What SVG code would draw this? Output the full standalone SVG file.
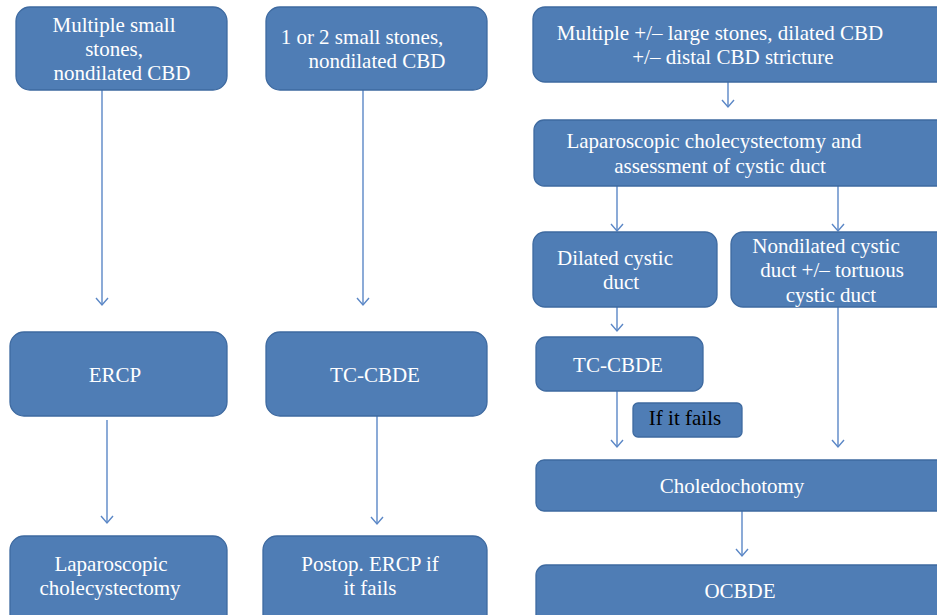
<svg xmlns="http://www.w3.org/2000/svg" width="937" height="615" viewBox="0 0 937 615">
<defs>
<style>
.box{fill:#4F7DB5;stroke:#3E6AA0;stroke-width:1.3}
.t{font-size:21px;fill:#FFFFFF;text-anchor:middle}
.k{fill:#000000}
.c{stroke:#5B87C6;stroke-width:1.4;fill:none}
</style>
<marker id="ah" markerUnits="userSpaceOnUse" markerWidth="16" markerHeight="16" viewBox="-8 -8 16 16" refX="0" refY="0" orient="auto">
<path d="M-7,-6 L0,0 L-7,6" fill="none" stroke="#5B87C6" stroke-width="1.4"/>
</marker>
</defs>
<rect width="937" height="615" fill="#FFFFFF"/>
<g id="connectors">
<line class="c" x1="102" y1="90" x2="102" y2="305" marker-end="url(#ah)"/>
<line class="c" x1="363" y1="90" x2="363" y2="305" marker-end="url(#ah)"/>
<line class="c" x1="107" y1="420" x2="107" y2="523" marker-end="url(#ah)"/>
<line class="c" x1="377" y1="416" x2="377" y2="524" marker-end="url(#ah)"/>
<line class="c" x1="728" y1="82" x2="728" y2="107" marker-end="url(#ah)"/>
<line class="c" x1="617" y1="186" x2="617" y2="231" marker-end="url(#ah)"/>
<line class="c" x1="838" y1="186" x2="838" y2="231" marker-end="url(#ah)"/>
<line class="c" x1="617" y1="307" x2="617" y2="331" marker-end="url(#ah)"/>
<line class="c" x1="617" y1="391" x2="617" y2="447" marker-end="url(#ah)"/>
<line class="c" x1="838" y1="307" x2="838" y2="447" marker-end="url(#ah)"/>
<line class="c" x1="742" y1="511" x2="742" y2="556" marker-end="url(#ah)"/>
</g>
<g font-family="Liberation Serif, DejaVu Serif, serif">
<g id="n1">
<rect class="box" x="16" y="7" width="211" height="83" rx="14"/>
<text class="t" x="114" y="32">Multiple small</text>
<text class="t" x="114" y="56">stones,</text>
<text class="t" x="122" y="80">nondilated CBD</text>
</g>
<g id="n2">
<rect class="box" x="266" y="7" width="221" height="83" rx="14"/>
<text class="t" x="362" y="44">1 or 2 small stones,</text>
<text class="t" x="377" y="68">nondilated CBD</text>
</g>
<g id="n3">
<rect class="box" x="10" y="332" width="217" height="84" rx="14"/>
<text class="t" x="115" y="382">ERCP</text>
</g>
<g id="n4">
<rect class="box" x="266" y="332" width="221" height="84" rx="14"/>
<text class="t" x="375" y="382">TC-CBDE</text>
</g>
<g id="n5">
<rect class="box" x="10" y="536" width="217" height="100" rx="14"/>
<text class="t" x="111" y="571">Laparoscopic</text>
<text class="t" x="110" y="595">cholecystectomy</text>
</g>
<g id="n6">
<rect class="box" x="263" y="536" width="224" height="100" rx="14"/>
<text class="t" x="370" y="571">Postop. ERCP if</text>
<text class="t" x="370" y="595">it fails</text>
</g>
<g id="n7">
<rect class="box" x="533" y="7" width="420" height="75" rx="12"/>
<text class="t" x="720" y="40">Multiple +/– large stones, dilated CBD</text>
<text class="t" x="733" y="64">+/–  distal CBD stricture</text>
</g>
<g id="n8">
<rect class="box" x="534" y="120" width="420" height="66" rx="10"/>
<text class="t" x="714" y="148">Laparoscopic cholecystectomy and</text>
<text class="t" x="720" y="173">assessment of cystic duct</text>
</g>
<g id="n9">
<rect class="box" x="533" y="232" width="184" height="75" rx="12"/>
<text class="t" x="615" y="265">Dilated cystic</text>
<text class="t" x="621" y="289">duct</text>
</g>
<g id="n10">
<rect class="box" x="731" y="232" width="220" height="75" rx="12"/>
<text class="t" x="826" y="253">Nondilated cystic</text>
<text class="t" x="832" y="277">duct +/– tortuous</text>
<text class="t" x="831" y="302">cystic duct</text>
</g>
<g id="n11">
<rect class="box" x="536" y="337" width="167" height="54" rx="10"/>
<text class="t" x="618" y="372">TC-CBDE</text>
</g>
<g id="n12">
<rect class="box" x="633" y="403" width="109" height="34" rx="5"/>
<text class="t k" x="685" y="425">If it fails</text>
</g>
<g id="n13">
<rect class="box" x="536" y="460" width="420" height="51" rx="8"/>
<text class="t" x="732" y="493">Choledochotomy</text>
</g>
<g id="n14">
<rect class="box" x="536" y="565" width="420" height="70" rx="10"/>
<text class="t" x="740" y="598">OCBDE</text>
</g>
</g>
</svg>
